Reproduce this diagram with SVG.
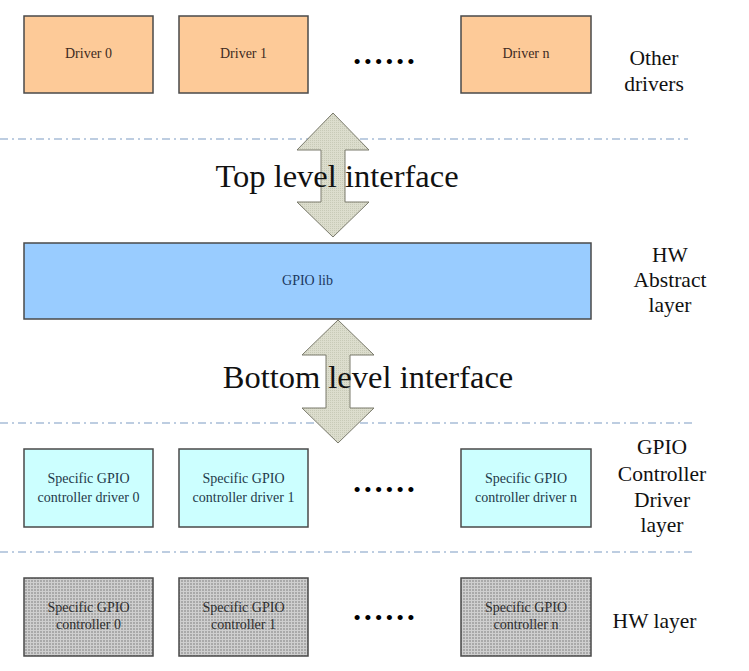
<svg xmlns="http://www.w3.org/2000/svg" width="749" height="671" viewBox="0 0 749 671">
  <defs>
    <pattern id="grayTex" width="3" height="3" patternUnits="userSpaceOnUse">
      <rect width="3" height="3" fill="#a9a9a9"/>
      <rect width="3" height="1" fill="#cfcfcf"/>
      <rect width="1" height="3" fill="#cfcfcf"/>
    </pattern>
    <pattern id="arrowTex" width="2" height="2" patternUnits="userSpaceOnUse">
      <rect width="2" height="2" fill="#dcddcd"/>
      <rect width="1" height="1" fill="#c8cab7"/>
    </pattern>
  </defs>
  <style>
    text { font-family: 'Liberation Serif', 'Times New Roman', 'DejaVu Serif', serif; }
    .box { stroke: #4a4a4a; stroke-width: 1.5; }
    .drv { fill: #fdca98; }
    .lib { fill: #99ccff; }
    .ctl { fill: #ccffff; }
    .hw { fill: url(#grayTex); }
    .lbl { font-size: 14px; text-anchor: middle; }
    .side { font-size: 21.5px; fill: #111; text-anchor: middle; }
    .big { font-size: 32.5px; fill: #111; text-anchor: middle; }
    .dots { font-size: 43px; fill: #000; text-anchor: middle; }
    .sep { stroke: #7d9bc4; stroke-width: 1.2; stroke-dasharray: 8 4 2 4; fill: none; }
    .arrow { fill: url(#arrowTex); stroke: #7a7a6c; stroke-width: 1; }
  </style>

  <g id="separators">
    <line class="sep" x1="0" y1="139" x2="688" y2="139"/>
    <line class="sep" x1="0" y1="423" x2="693" y2="423"/>
    <line class="sep" x1="0" y1="552" x2="693" y2="552"/>
  </g>

  <g id="driver0">
    <rect class="box drv" x="24" y="16" width="129" height="77"/>
    <text class="lbl" x="88.5" y="58" fill="#3d2b1f">Driver 0</text>
  </g>
  <g id="driver1">
    <rect class="box drv" x="179" y="16" width="129" height="77"/>
    <text class="lbl" x="243.5" y="58" fill="#3d2b1f">Driver 1</text>
  </g>
  <g id="driverDots">
    <text class="dots" x="384" y="64">......</text>
  </g>
  <g id="driverN">
    <rect class="box drv" x="461" y="16" width="130" height="77"/>
    <text class="lbl" x="526" y="58" fill="#3d2b1f">Driver n</text>
  </g>
  <g id="labelOtherDrivers">
    <text class="side" x="654" y="65">Other</text>
    <text class="side" x="654" y="91">drivers</text>
  </g>

  <g id="gpioLib">
    <rect class="box lib" x="24" y="243" width="567" height="76"/>
    <text class="lbl" x="307.5" y="285" fill="#1c3860">GPIO lib</text>
  </g>
  <g id="labelHWAbstract">
    <text class="side" x="670" y="262">HW</text>
    <text class="side" x="670" y="287">Abstract</text>
    <text class="side" x="670" y="312">layer</text>
  </g>

  <g id="ctlDriver0">
    <rect class="box ctl" x="24" y="449" width="129" height="78"/>
    <text class="lbl" x="88.5" y="483" fill="#1f3a4a">Specific GPIO</text>
    <text class="lbl" x="88.5" y="502" fill="#1f3a4a">controller driver 0</text>
  </g>
  <g id="ctlDriver1">
    <rect class="box ctl" x="179" y="449" width="129" height="78"/>
    <text class="lbl" x="243.5" y="483" fill="#1f3a4a">Specific GPIO</text>
    <text class="lbl" x="243.5" y="502" fill="#1f3a4a">controller driver 1</text>
  </g>
  <g id="ctlDots">
    <text class="dots" x="384" y="492">......</text>
  </g>
  <g id="ctlDriverN">
    <rect class="box ctl" x="461" y="449" width="130" height="78"/>
    <text class="lbl" x="526" y="483" fill="#1f3a4a">Specific GPIO</text>
    <text class="lbl" x="526" y="502" fill="#1f3a4a">controller driver n</text>
  </g>
  <g id="labelCtlDriverLayer">
    <text class="side" x="662" y="454">GPIO</text>
    <text class="side" x="662" y="481">Controller</text>
    <text class="side" x="662" y="507">Driver</text>
    <text class="side" x="662" y="532">layer</text>
  </g>

  <g id="hwCtl0">
    <rect class="box hw" x="24" y="578" width="129" height="78"/>
    <text class="lbl" x="88.5" y="612" fill="#2e2e2e">Specific GPIO</text>
    <text class="lbl" x="88.5" y="629" fill="#2e2e2e">controller 0</text>
  </g>
  <g id="hwCtl1">
    <rect class="box hw" x="179" y="578" width="129" height="78"/>
    <text class="lbl" x="243.5" y="612" fill="#2e2e2e">Specific GPIO</text>
    <text class="lbl" x="243.5" y="629" fill="#2e2e2e">controller 1</text>
  </g>
  <g id="hwDots">
    <text class="dots" x="384" y="620">......</text>
  </g>
  <g id="hwCtlN">
    <rect class="box hw" x="461" y="578" width="130" height="78"/>
    <text class="lbl" x="526" y="612" fill="#2e2e2e">Specific GPIO</text>
    <text class="lbl" x="526" y="629" fill="#2e2e2e">controller n</text>
  </g>
  <g id="labelHWLayer">
    <text class="side" x="654.5" y="628">HW layer</text>
  </g>

  <g id="connectors">
    <polygon class="arrow" points="333,113 369,150 345,150 345,202 369,202 333,237 297,202 321,202 321,150 297,150"/>
    <polygon class="arrow" points="338,320 374,355 350,355 350,408 374,408 338,443 302,408 326,408 326,355 302,355"/>
    <text class="big" x="337" y="187">Top level interface</text>
    <text class="big" x="368" y="388">Bottom level interface</text>
  </g>
</svg>
